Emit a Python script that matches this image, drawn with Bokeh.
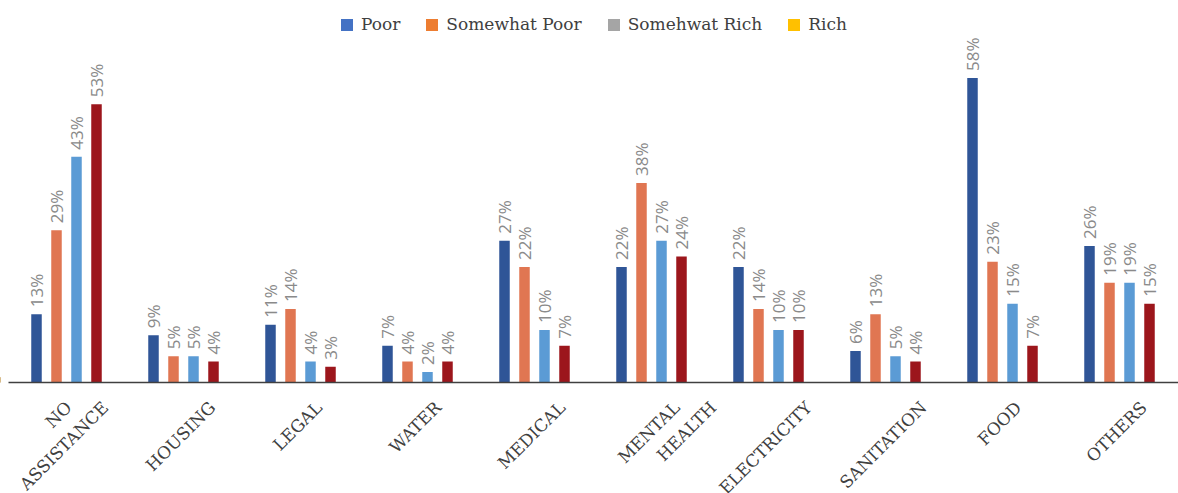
import math
from bokeh.plotting import figure
from bokeh.models import Range1d, Legend, LegendItem, ColumnDataSource
from bokeh.embed import file_html
from bokeh.resources import INLINE
from bokeh.core.properties import value

# ---------------- data ----------------
categories = ["NO\nASSISTANCE", "HOUSING", "LEGAL", "WATER", "MEDICAL",
              "MENTAL\nHEALTH", "ELECTRICITY", "SANITATION", "FOOD", "OTHERS"]
series_names = ["Poor", "Somewhat Poor", "Somehwat Rich", "Rich"]
poor = [13, 9, 11, 7, 27, 22, 22, 6, 58, 26]
somewhat_poor = [29, 5, 14, 4, 22, 38, 14, 13, 23, 19]
somewhat_rich = [43, 5, 4, 2, 10, 27, 10, 5, 15, 19]
rich = [53, 4, 3, 4, 7, 24, 10, 4, 7, 15]

# ---------------- style ----------------
bar_colors = ["#2F5597", "#E07652", "#5B9BD5", "#9C161C"]
legend_colors = ["#4472C4", "#ED7D31", "#A5A5A5", "#FFC000"]
label_gray = "#8A8A8A"
text_dark = "#404040"
serif = "DejaVu Serif"

W, H = 1178, 493
PX_CAT = 117.0          # px per category
PX_PCT = 5.25           # px per percent
BASE_F = 382.0          # baseline position from frame top (px)
FIRST_CENTER = 66.0     # px of first category centre

x0 = 0.5 - FIRST_CENTER / PX_CAT
x1 = x0 + W / PX_CAT
y1 = BASE_F / PX_PCT
y0 = -(H - BASE_F) / PX_PCT

p = figure(width=W, height=H, x_range=Range1d(x0, x1), y_range=Range1d(y0, y1),
           output_backend="svg", toolbar_location=None,
           x_axis_location=None, y_axis_location=None, min_border=0)
p.xgrid.visible = False
p.ygrid.visible = False
p.outline_line_color = None
p.background_fill_color = "white"
p.border_fill_color = "white"

offsets_px = [-30, -10, 10, 30]
bar_w = 10.5 / PX_CAT
series = [poor, somewhat_poor, somewhat_rich, rich]

for s, vals in enumerate(series):
    xs = [i + 0.5 + offsets_px[s] / PX_CAT for i in range(len(categories))]
    src = ColumnDataSource(dict(
        x=xs, top=vals,
        ly=[v + 7.0 / PX_PCT for v in vals],
        lab=[f"{v}%" for v in vals]))
    p.vbar(x="x", top="top", bottom=0, width=bar_w, source=src,
           fill_color=bar_colors[s], line_color=None)
    p.text(x="x", y="ly", text="lab", source=src, angle=math.pi / 2,
           text_align="left", text_baseline="middle",
           text_font=value("Open Sans"), text_font_size="17px",
           text_color=label_gray)

# baseline (category axis line)
p.segment(x0=[x0 + 8.0 / PX_CAT], x1=[x1], y0=[0], y1=[0],
          line_color=text_dark, line_width=1.5)

# category labels (rotated 45deg)
cw = {'A': .722, 'B': .735, 'C': .765, 'D': .802, 'E': .730, 'F': .694, 'G': .799,
      'H': .872, 'I': .395, 'J': .401, 'K': .747, 'L': .664, 'M': 1.024, 'N': .875,
      'O': .820, 'P': .673, 'Q': .820, 'R': .753, 'S': .685, 'T': .667, 'U': .843,
      'V': .722, 'W': 1.028, 'X': .712, 'Y': .660, 'Z': .695, ' ': .318}
FS = 17.0

def tw(s):
    return sum(cw.get(c, .65) for c in s) * FS

lx, ly, lt = [], [], []
end_y_page = 404.0
for i, cat in enumerate(categories):
    lines = cat.split("\n")
    widths = [tw(l) for l in lines]
    L = widths.index(max(widths))
    end_L = -3.0 + widths[L] / (2 * math.sqrt(2))
    for k, line in enumerate(lines):
        e = end_L + (k - L) * 36.5
        lx.append(i + 0.5 + e / PX_CAT)
        ly.append((BASE_F - end_y_page) / PX_PCT)
        lt.append(line)

p.text(x=lx, y=ly, text=lt, angle=math.pi / 4, text_align="right",
       text_baseline="middle", text_font=value(serif), text_font_size="17px",
       text_color=text_dark)

# legend (colours as shown in the reference legend); proxy renderers sit outside the view
items = []
for name, col in zip(series_names, legend_colors):
    r = p.vbar(x=[x0 - 5], top=[1], width=0.1, fill_color=col, line_color=None)
    items.append(LegendItem(label=name, renderers=[r]))

legend = Legend(items=items, orientation="horizontal", location=(339, 459),
                glyph_width=15, glyph_height=15, label_standoff=7, spacing=24,
                padding=0, margin=0, border_line_color=None,
                background_fill_alpha=0, label_text_font=serif,
                label_text_font_size="17px", label_text_color=text_dark)
p.add_layout(legend)

open("out.html", "w").write(file_html(p, INLINE))
